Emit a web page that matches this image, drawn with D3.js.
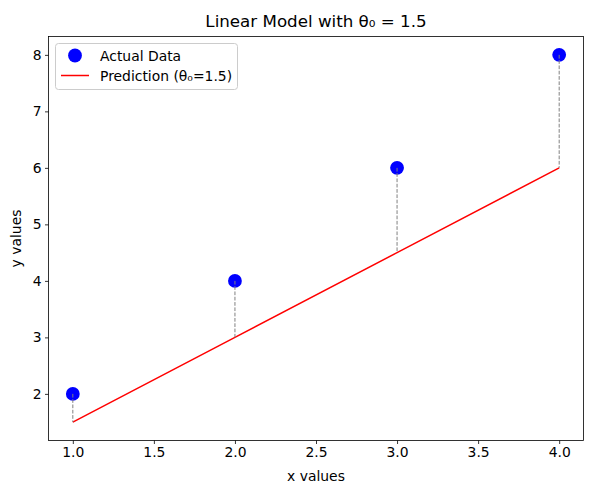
<!DOCTYPE html>
<html><head><meta charset="utf-8">
<script src="https://cdn.jsdelivr.net/npm/d3@7"></script>
<style>body{margin:0;background:#fff}svg{display:block}text{font-family:"DejaVu Sans",sans-serif;fill:#000}</style>
</head><body>
<svg id="c" width="593" height="492"></svg>
<script>
const xValues = [1, 2, 3, 4];
const yValues = [2, 4, 6, 8];
const theta0 = 1.5;
const predValues = [1.5, 3, 4.5, 6];
const xTicks = [1.0, 1.5, 2.0, 2.5, 3.0, 3.5, 4.0];
const yTicks = [2, 3, 4, 5, 6, 7, 8];
const titleText = "Linear Model with θ₀ = 1.5";
const legendLabels = ["Actual Data", "Prediction (θ₀=1.5)"];

const svg = d3.select("#c");
const L = 48.5, R = 583.5, T = 36.5, B = 440.5;
const x = d3.scaleLinear().domain([0.85, 4.15]).range([L, R]);
const y = d3.scaleLinear().domain([1.175, 8.325]).range([B, T]);

// axes
const xa = svg.append("g").attr("transform", `translate(0,${B})`)
  .call(d3.axisBottom(x).tickValues(xTicks).tickFormat(d3.format(".1f")).tickSize(3.5).tickPadding(3.5));
const ya = svg.append("g").attr("transform", `translate(${L},0)`)
  .call(d3.axisLeft(y).tickValues(yTicks).tickFormat(d3.format("d")).tickSize(3.5).tickPadding(3.5));
[xa, ya].forEach(a => {
  a.select(".domain").remove();
  a.selectAll("text").style("font-size", "13.9px").style("font-family", "DejaVu Sans");
  a.selectAll("line").attr("stroke", "#000").attr("stroke-width", 0.8);
});

// scatter
svg.selectAll("circle.pt").data(xValues).join("circle").attr("class", "pt")
  .attr("cx", d => x(d)).attr("cy", (d, i) => y(yValues[i])).attr("r", 6.9).attr("fill", "#0000ff");

// prediction line
svg.append("path").datum(xValues)
  .attr("d", d3.line().x(d => x(d)).y((d, i) => y(predValues[i])))
  .attr("fill", "none").attr("stroke", "#ff0000").attr("stroke-width", 1.5);

// residuals
svg.selectAll("line.res").data(xValues).join("line").attr("class", "res")
  .attr("x1", d => x(d)).attr("x2", d => x(d))
  .attr("y1", (d, i) => y(yValues[i])).attr("y2", (d, i) => y(predValues[i]))
  .attr("stroke", "#808080").attr("stroke-width", 1).attr("stroke-dasharray", "3.7,1.6");

// frame
svg.append("rect").attr("x", L).attr("y", T).attr("width", R - L).attr("height", B - T)
  .attr("fill", "none").attr("stroke", "#000").attr("stroke-width", 0.8);

// title
svg.append("text").attr("x", (L + R) / 2).attr("y", 27).attr("text-anchor", "middle")
  .style("font-size", "16.7px").text(titleText);

// labels
svg.append("text").attr("x", (L + R) / 2).attr("y", 481).attr("text-anchor", "middle")
  .style("font-size", "13.9px").text("x values");
svg.append("text").attr("transform", `translate(21,${(T + B) / 2}) rotate(-90)`).attr("text-anchor", "middle")
  .style("font-size", "13.9px").text("y values");

// legend
const lg = svg.append("g");
lg.append("rect").attr("x", 55.5).attr("y", 43.5).attr("width", 182).attr("height", 46).attr("rx", 3)
  .attr("fill", "#fff").attr("fill-opacity", 0.8).attr("stroke", "#ccc").attr("stroke-width", 1);
lg.append("circle").attr("cx", 75).attr("cy", 55.5).attr("r", 6.9).attr("fill", "#0000ff");
lg.append("text").attr("x", 100).attr("y", 60.5).style("font-size", "13.9px").text(legendLabels[0]);
lg.append("line").attr("x1", 61).attr("x2", 89).attr("y1", 75.5).attr("y2", 75.5)
  .attr("stroke", "#ff0000").attr("stroke-width", 1.5);
lg.append("text").attr("x", 100).attr("y", 80.5).style("font-size", "13.9px").text(legendLabels[1]);
</script>
</body></html>
